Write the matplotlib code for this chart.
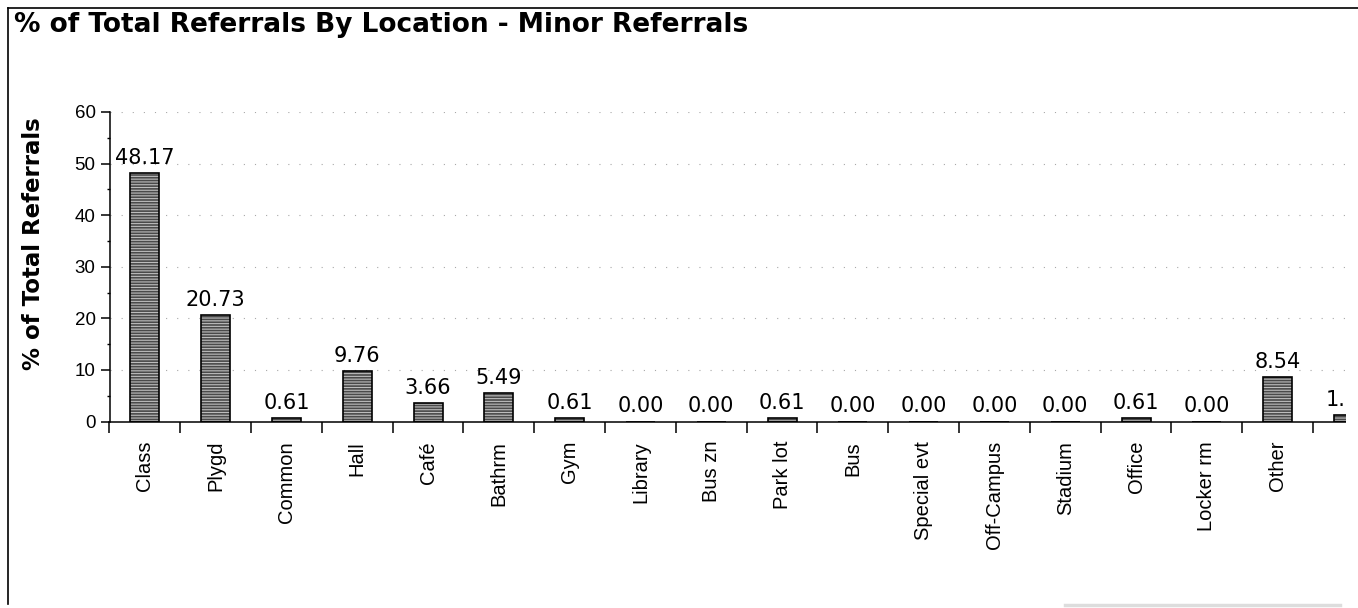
import matplotlib
matplotlib.use('Agg')
import matplotlib.pyplot as plt
from matplotlib.patches import Rectangle
from matplotlib.lines import Line2D
import numpy as np

# ---------------- data ----------------
title = "% of Total Referrals By Location - Minor Referrals"
y_label = "% of Total Referrals"
categories = ['Class', 'Plygd', 'Common', 'Hall', 'Café', 'Bathrm', 'Gym',
              'Library', 'Bus zn', 'Park lot', 'Bus', 'Special evt',
              'Off-Campus', 'Stadium', 'Office', 'Locker rm', 'Other', '']
values = [48.17, 20.73, 0.61, 9.76, 3.66, 5.49, 0.61, 0.00, 0.00, 0.61,
          0.00, 0.00, 0.00, 0.00, 0.61, 0.00, 8.54, 1.22]
y_ticks = [0, 10, 20, 30, 40, 50, 60]
y_minor_ticks = [5, 15, 25, 35, 45, 55]

# ---------------- layout ----------------
plt.rcParams['hatch.linewidth'] = 0.8
W, H = 1358, 608
fig = plt.figure(figsize=(W / 100, H / 100), dpi=100)
fig.patch.set_facecolor('white')

def fy(py):
    return 1 - py / H

cat_w = 70.8
ax = fig.add_axes([109.5 / W, (H - 421.5) / H, len(categories) * cat_w / W, 309.5 / H])

x = np.arange(len(categories))
ax.bar(x, values, width=0.41, color='#4a4a4a', edgecolor='#bdbdbd',
       hatch='------', linewidth=0, zorder=2)
ax.bar(x, values, width=0.41, fill=False, edgecolor='black', linewidth=1.2, zorder=3)

for xi, v in zip(x, values):
    ax.annotate(f"{v:.2f}", (xi, v), xytext=(0, 6.5), textcoords='offset points',
                ha='center', va='baseline', fontsize=15, family='DejaVu Sans',
                color='black', zorder=4, annotation_clip=False)

ax.set_xlim(-0.5, len(categories) - 0.5)
ax.set_ylim(0, 60)
ax.set_yticks(y_ticks)
ax.set_yticks(y_minor_ticks, minor=True)
ax.set_yticklabels([str(t) for t in y_ticks], fontsize=13.5, family='Liberation Sans')

ax.set_xticks(np.arange(-0.5, len(categories), 1.0))
ax.set_xticklabels([])
ax.set_xticks(x, minor=True)
ax.set_xticklabels(categories, minor=True, rotation=90, fontsize=14.5,
                   family='Liberation Sans', va='top', ha='center')

ax.tick_params(axis='x', which='major', length=8, width=1.1, direction='out', color='black')
ax.tick_params(axis='x', which='minor', length=0, pad=14)
ax.tick_params(axis='y', which='major', length=6.5, width=1.1, direction='out', pad=3.5)
ax.tick_params(axis='y', which='minor', length=2.5, width=1.0, direction='out')

for s in ['top', 'right']:
    ax.spines[s].set_visible(False)
for s in ['left', 'bottom']:
    ax.spines[s].set_linewidth(1.1)
    ax.spines[s].set_color('black')

ax.yaxis.grid(True, which='major', color='#a8a8a8', linestyle=(0, (1, 9)), linewidth=0.8)
ax.set_axisbelow(True)

# title and axis label
fig.text(14 / W, fy(32), title, fontsize=19, fontweight='bold',
         family='DejaVu Sans', ha='left', va='baseline')
fig.text(34 / W, fy(244), y_label, fontsize=16.5, fontweight='bold',
         family='DejaVu Sans', rotation=90, ha='center', va='center')

# clipped right edge of the window (the last category is cut off in the reference)
fig.patches.append(Rectangle((1346 / W, fy(603)), 14 / W, 594 / H, transform=fig.transFigure,
                             facecolor='white', edgecolor='none', zorder=5))
# frame lines
fig.lines.append(Line2D([8 / W, 8 / W], [fy(8), fy(604)], transform=fig.transFigure,
                        color='black', linewidth=1.2, zorder=6))
fig.lines.append(Line2D([8 / W, 1358 / W], [fy(8), fy(8)], transform=fig.transFigure,
                        color='black', linewidth=1.2, zorder=6))
fig.lines.append(Line2D([1065 / W, 1340 / W], [fy(605), fy(605)], transform=fig.transFigure,
                        color='#dddddd', linewidth=2.5, zorder=6))

fig.savefig('out.png', dpi=100, facecolor='white')
